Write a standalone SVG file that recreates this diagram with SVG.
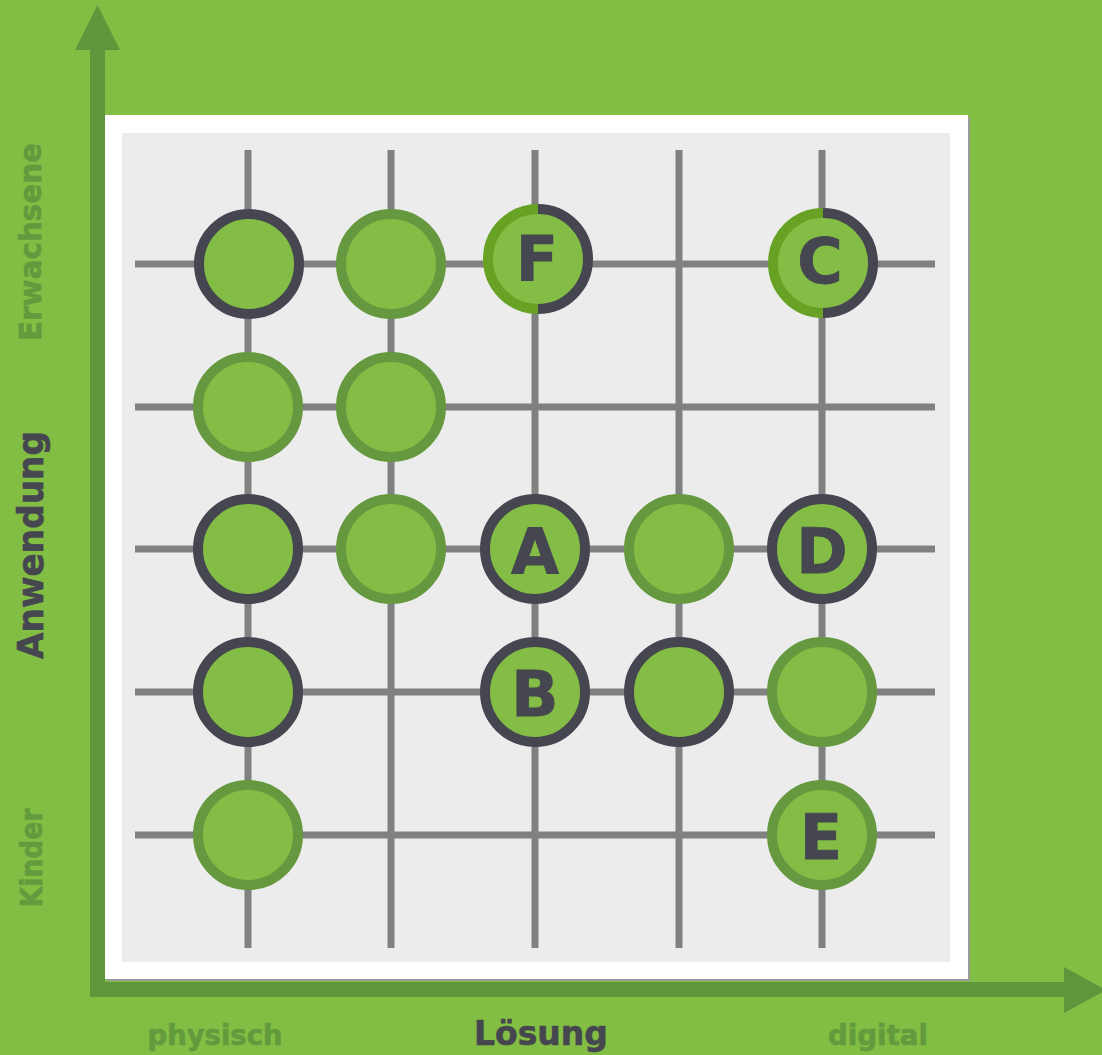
<svg xmlns="http://www.w3.org/2000/svg" width="1102" height="1055" viewBox="0 0 1102 1055">
  <defs>
    <style>
      .grid line { stroke: #808080; stroke-width: 7; }
      .node circle { fill: #84bd45; stroke-width: 10; }
      .dark circle { stroke: #45464f; }
      .green circle { stroke: #66993f; }
      .lbl { font-family: "DejaVu Sans", Verdana, sans-serif; font-weight: bold; fill: #45464f; stroke: #45464f; stroke-width: 0.8; font-size: 62px; text-anchor: middle; }
      .axis-lbl { font-family: "DejaVu Sans", Verdana, sans-serif; font-weight: bold; text-anchor: middle; stroke-width: 0.6; }
      .pale { fill: #629a3d; stroke: #629a3d; }
      .darktxt { fill: #45464f; stroke: #45464f; }
    </style>
  </defs>
  <rect x="0" y="0" width="1102" height="1055" fill="#82bd44"/>
  <!-- panel -->
  <rect x="107" y="117" width="863" height="864" fill="#9a9a9a"/>
  <rect x="105" y="115" width="863" height="864" fill="#ffffff"/>
  <rect x="122" y="133" width="828" height="829" fill="#ebeceb"/>

  <!-- connectors / grid -->
  <g id="connectors" class="grid">
    <line x1="248" y1="150" x2="248" y2="948"/>
    <line x1="391" y1="150" x2="391" y2="948"/>
    <line x1="535" y1="150" x2="535" y2="948"/>
    <line x1="679" y1="150" x2="679" y2="948"/>
    <line x1="822" y1="150" x2="822" y2="948"/>
    <line x1="135" y1="264" x2="935" y2="264"/>
    <line x1="135" y1="407" x2="935" y2="407"/>
    <line x1="135" y1="549" x2="935" y2="549"/>
    <line x1="135" y1="692" x2="935" y2="692"/>
    <line x1="135" y1="835" x2="935" y2="835"/>
  </g>

  <!-- row 1 -->
  <g id="n-r1c1" class="node dark"><circle cx="249" cy="264" r="50"/></g>
  <g id="n-r1c2" class="node green"><circle cx="391" cy="264" r="50"/></g>
  <g id="n-F" class="node">
    <circle cx="538" cy="259" r="50" stroke="none"/>
    <path d="M538,209 A50,50 0 0 0 538,309" fill="none" stroke="#68a224" stroke-width="10"/>
    <path d="M538,209 A50,50 0 0 1 538,309" fill="none" stroke="#45464f" stroke-width="10"/>
    <text class="lbl" x="537" y="280">F</text>
  </g>
  <g id="n-C" class="node">
    <circle cx="823" cy="263" r="50" stroke="none"/>
    <path d="M823,213 A50,50 0 0 0 823,313" fill="none" stroke="#68a224" stroke-width="10"/>
    <path d="M823,213 A50,50 0 0 1 823,313" fill="none" stroke="#45464f" stroke-width="10"/>
    <text class="lbl" x="820" y="283">C</text>
  </g>
  <!-- row 2 -->
  <g id="n-r2c1" class="node green"><circle cx="248" cy="407" r="50"/></g>
  <g id="n-r2c2" class="node green"><circle cx="391" cy="407" r="50"/></g>
  <!-- row 3 -->
  <g id="n-r3c1" class="node dark"><circle cx="248" cy="549" r="50"/></g>
  <g id="n-r3c2" class="node green"><circle cx="391" cy="549" r="50"/></g>
  <g id="n-A" class="node dark"><circle cx="535" cy="549" r="50"/><text class="lbl" x="535" y="573">A</text></g>
  <g id="n-r3c4" class="node green"><circle cx="679" cy="549" r="50"/></g>
  <g id="n-D" class="node dark"><circle cx="822" cy="549" r="50"/><text class="lbl" x="822" y="573">D</text></g>
  <!-- row 4 -->
  <g id="n-r4c1" class="node dark"><circle cx="248" cy="692" r="50"/></g>
  <g id="n-B" class="node dark"><circle cx="535" cy="692" r="50"/><text class="lbl" x="535" y="716">B</text></g>
  <g id="n-r4c4" class="node dark"><circle cx="679" cy="692" r="50"/></g>
  <g id="n-r4c5" class="node green"><circle cx="822" cy="692" r="50"/></g>
  <!-- row 5 -->
  <g id="n-r5c1" class="node green"><circle cx="248" cy="835" r="50"/></g>
  <g id="n-E" class="node green"><circle cx="822" cy="835" r="50"/><text class="lbl" x="821" y="859">E</text></g>

  <!-- axes -->
  <g id="axes" fill="#5f963c">
    <rect x="90" y="48" width="15" height="949"/>
    <polygon points="97.5,5 120,50 75,50"/>
    <rect x="90" y="982" width="976" height="15"/>
    <polygon points="1064,967 1106,990 1064,1013"/>
  </g>

  <!-- axis labels -->
  <g id="labels">
    <text class="axis-lbl darktxt" x="541" y="1045" font-size="33">Lösung</text>
    <text class="axis-lbl pale" x="215" y="1045" font-size="29" textLength="135" lengthAdjust="spacingAndGlyphs">physisch</text>
    <text class="axis-lbl pale" x="878" y="1045" font-size="29" textLength="100" lengthAdjust="spacingAndGlyphs">digital</text>
    <text class="axis-lbl darktxt" transform="translate(43,545) rotate(-90)" font-size="35" textLength="228" lengthAdjust="spacingAndGlyphs">Anwendung</text>
    <text class="axis-lbl pale" transform="translate(41,242) rotate(-90)" font-size="31" textLength="198" lengthAdjust="spacingAndGlyphs">Erwachsene</text>
    <text class="axis-lbl pale" transform="translate(42,858) rotate(-90)" font-size="31" textLength="99" lengthAdjust="spacingAndGlyphs">Kinder</text>
  </g>
</svg>
